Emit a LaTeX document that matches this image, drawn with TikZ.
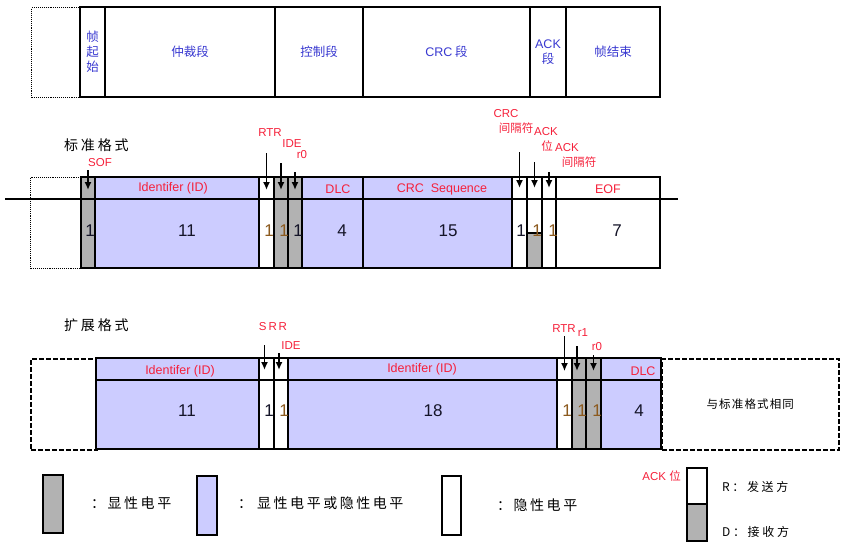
\documentclass[tikz,border=0pt]{standalone}
\usepackage{fontspec}
\setmainfont{Liberation Sans}
\newfontfamily\cjk{Noto Sans CJK SC}
\usepackage{tikz}
\usetikzlibrary{positioning,arrows.meta}
\usepackage{xcolor}
\definecolor{lav}{HTML}{CCCCFF}
\definecolor{dom}{HTML}{B2B2B2}
\definecolor{lblred}{HTML}{F5203A}
\definecolor{segblue}{HTML}{3838D0}
\definecolor{numdark}{HTML}{141428}
\definecolor{numbrown}{HTML}{8C5A1E}

\begin{document}
\begin{tikzpicture}[x=1pt, y=-1pt,
  fld/.style={draw, line width=2.8pt, inner sep=0, outer sep=0, anchor=north west},
  ghost/.style={draw, densely dotted, line width=1.1pt, inner sep=0, anchor=north west},
  ghostx/.style={draw, dash pattern=on 5pt off 2pt, line width=1.6pt, inner sep=0, anchor=north west},
  seg/.style={text=segblue, font=\cjk\fontsize{12.5}{15}\selectfont, align=center},
  lbl/.style={text=lblred, font=\fontsize{11.5}{13}\selectfont, inner sep=0},
  hdr/.style={text=lblred, font=\fontsize{12.5}{14}\selectfont, inner sep=0},
  num/.style={text=numdark, font=\fontsize{17}{19}\selectfont, inner sep=0},
  bitn/.style={num, text=numbrown},
  pin/.style={-{Latex[length=8pt,width=7pt]}, line width=1.8pt},
  title/.style={font=\cjk\fontsize{14}{16}\selectfont\addfontfeature{LetterSpace=20}, anchor=west, inner sep=0},
  legend/.style={font=\cjk\fontsize{14}{16}\selectfont\addfontfeature{LetterSpace=18}, anchor=west, inner sep=0},
  side/.style={font=\cjk\fontsize{12}{14}\selectfont\addfontfeature{LetterSpace=22}, anchor=west, inner sep=0}]
  \useasboundingbox (0,0) rectangle (847,546);

  % frame layout
  \node[ghost, minimum width=49, minimum height=90] (tpre) at (31,7) {};
  \foreach \nm/\xa/\xb/\txt in {sof/80/105/{帧\\起\\始}, arb/105/275/仲裁段, ctl/275/363/控制段,
      crc/363/530/{{\rmfamily CRC} 段}, ack/530/566/{{\rmfamily ACK}\\段}, eof/566/660/帧结束}
    \node[fld, seg, minimum width={\xb-\xa}, minimum height=90] (t\nm) at (\xa,7) {\txt};

  % standard format
  \node[title] (stitle) at (64,145) {标准格式};
  \node[ghost, minimum width=50, minimum height=91] (spre) at (30,177) {};
  \foreach \nm/\xa/\xb/\fc in {sof/81/95/dom, id/95/259/lav, rtr/259/274/white, ide/274/288/dom,
      rz/288/302/dom, dlc/302/363/lav, crc/363/512/lav, crcd/512/527/white, ack/527/542/white,
      ackd/542/556/white, eof/556/660/white}
    \node[fld, fill=\fc, minimum width={\xb-\xa}, minimum height=91] (s\nm) at (\xa,177) {};
  \node[fld, fill=dom, minimum width=15, minimum height=35] (sackdom) at (527,233) {};
  \draw[line width=2.8pt] (5,199) -- (678,199);

  \node[hdr] (sidlbl) at (173,188) {Identifer (ID)};
  \node[hdr] (sdlclbl) at (338,189) {DLC};
  \node[hdr] (scrclbl) at (442,189) {CRC\ \ Sequence};
  \node[hdr] (seoflbl) at (608,189) {EOF};

  \node[num] (nsof) at (90,231) {1};
  \node[num] (nid) at (187,231) {11};
  \node[bitn] (nrtr) at (269,231) {1};
  \node[bitn] (nide) at (284,231) {1};
  \node[num] (nrz) at (298,231) {1};
  \node[num] (ndlc) at (342,231) {4};
  \node[num] (ncrc) at (448,231) {15};
  \node[num] (ncrcd) at (521,231) {1};
  \node[bitn] (nack) at (537,231) {1};
  \node[bitn] (nackd) at (553,231) {1};
  \node[num] (neof) at (617,231) {7};

  \node[lbl] (lsof) at (100,163) {SOF};
  \node[lbl] (lrtr) at (270,133) {RTR};
  \node[lbl] (lide) at (292,144) {IDE};
  \node[lbl] (lrz) at (302,155) {r0};
  \node[lbl] (lcrcd) at (506,114) {CRC};
  \node[lbl, font=\cjk\fontsize{11.5}{13}\selectfont] (lcrcdb) at (516,128) {间隔符};
  \node[lbl] (lack) at (546,132) {ACK};
  \node[lbl, font=\cjk\fontsize{11.5}{13}\selectfont] (lackb) at (547,146) {位};
  \node[lbl] (lackd) at (567,148) {ACK};
  \node[lbl, font=\cjk\fontsize{11.5}{13}\selectfont] (lackdb) at (579,162) {间隔符};

  \draw[pin] ([yshift=7pt]ssof.north) -- ([yshift=-13pt]ssof.north);
  \draw[pin] ([yshift=24pt]srtr.north) -- ([yshift=-13pt]srtr.north);
  \draw[pin] ([yshift=14pt]side.north) -- ([yshift=-13pt]side.north);
  \draw[pin] ([yshift=5pt]srz.north) -- ([yshift=-13pt]srz.north);
  \draw[pin] ([yshift=25pt]scrcd.north) -- ([yshift=-11pt]scrcd.north);
  \draw[pin] ([yshift=15pt]sack.north) -- ([yshift=-11pt]sack.north);
  \draw[pin] ([yshift=5pt]sackd.north) -- ([yshift=-11pt]sackd.north);

  % extended format
  \node[title] (xtitle) at (64,325) {扩展格式};
  \node[ghostx, minimum width=66, minimum height=91] (xpre) at (30,358) {};
  \node[ghostx, minimum width=177, minimum height=91,
    font=\cjk\fontsize{11.5}{13}\selectfont\addfontfeature{LetterSpace=10}] (xpost) at (661,358) {与标准格式相同};
  \foreach \nm/\xa/\xb/\fc in {id/96/259/lav, srr/259/274/white, ide/274/288/white, idb/288/557/lav,
      rtr/557/572/white, ra/572/586/dom, rz/586/601/dom, dlc/601/661/lav}
    \node[fld, fill=\fc, minimum width={\xb-\xa}, minimum height=91] (x\nm) at (\xa,358) {};
  \draw[line width=2.8pt] (96,380) -- (661,380);

  \node[hdr] (xidlbl) at (180,371) {Identifer (ID)};
  \node[hdr] (xidblbl) at (422,369) {Identifer (ID)};
  \node[hdr] (xdlclbl) at (643,371) {DLC};

  \node[num] (mid) at (187,411) {11};
  \node[num] (msrr) at (269,411) {1};
  \node[bitn] (mide) at (284,411) {1};
  \node[num] (midb) at (433,411) {18};
  \node[bitn] (mrtr) at (567,411) {1};
  \node[bitn] (mra) at (582,411) {1};
  \node[bitn] (mrz) at (597,411) {1};
  \node[num] (mdlc) at (639,411) {4};

  \node[lbl] (ksrr) at (273,327) {S\,R\,R};
  \node[lbl] (kide) at (291,346) {IDE};
  \node[lbl] (krtr) at (564,329) {RTR};
  \node[lbl] (kra) at (583,333) {r1};
  \node[lbl] (krz) at (597,347) {r0};

  \draw[pin] ([xshift=-2pt, yshift=13pt]xsrr.north) -- ([xshift=-2pt, yshift=-12pt]xsrr.north);
  \draw[pin] ([xshift=-2pt, yshift=5pt]xide.north) -- ([xshift=-2pt, yshift=-12pt]xide.north);
  \draw[pin, line width=1.2pt] ([yshift=22pt]xrtr.north) -- ([yshift=-13pt]xrtr.north);
  \draw[pin, line width=2.6pt] ([xshift=-2pt, yshift=12pt]xra.north) -- ([xshift=-2pt, yshift=-13pt]xra.north);
  \draw[pin] ([yshift=3pt]xrz.north) -- ([yshift=-13pt]xrz.north);

  % legend
  \node[fld, fill=dom, minimum width=20, minimum height=58] (lgdom) at (43,475) {};
  \node[legend] (lgdomtxt) at (91,503) {：显性电平};
  \node[fld, fill=lav, minimum width=20, minimum height=59] (lglav) at (197,476) {};
  \node[legend] (lglavtxt) at (238,503) {：\hspace{5pt}显性电平或隐性电平};
  \node[fld, fill=white, minimum width=19, minimum height=59] (lgrec) at (442,476) {};
  \node[legend] (lgrectxt) at (497,505) {：隐性电平};

  \node[lbl, anchor=east] (lgacklbl) at (681,476) {ACK {\cjk 位}};
  \node[fld, fill=white, minimum width=20, minimum height=36] (lgackr) at (687,468) {};
  \node[fld, fill=dom, minimum width=20, minimum height=37] (lgackd) at (687,504) {};
  \node[side] (lgrtxt) at (722,487) {R：发送方};
  \node[side] (lgdtxt) at (722,532) {D：接收方};
\end{tikzpicture}
\end{document}
